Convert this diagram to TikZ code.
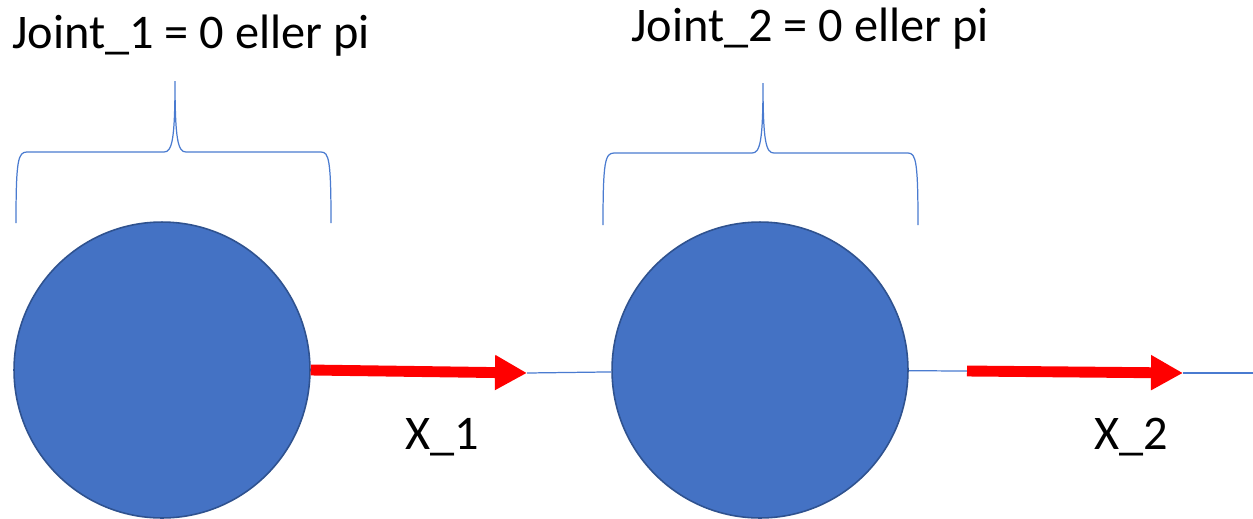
\documentclass[tikz,border=0pt]{standalone}
\usepackage{fontspec}
\setmainfont{Carlito}
\usetikzlibrary{arrows.meta}

\definecolor{discblue}{HTML}{4472C4}
\definecolor{discedge}{HTML}{2F528F}
\definecolor{bracecol}{HTML}{4A7BD0}

\begin{document}
\begin{tikzpicture}[
x=0.02cm, y=-0.02cm,
disc/.style={circle, fill=discblue, draw=discedge, line width=0.9pt, minimum size=5.92cm, inner sep=0pt},
label/.style={font=\fontsize{27.5}{32}\selectfont, inner sep=0pt},
thinline/.style={draw=bracecol, line width=0.7pt},
redarrow/.style={red, line width=6.2pt, -{Triangle[length=0.64cm, width=0.66cm]}}
]
\useasboundingbox (0,0) rectangle (1253,518);

% joints
\node[disc] (c1) at (162,370) {};
\node[disc] (c2) at (760,370) {};

% labels
\node[label] (j1) at (191,36) {Joint\_1 = 0 eller pi};
\node[label] (j2) at (810,29) {Joint\_2 = 0 eller pi};
\node[label] (x1) at (442,437) {X\_1};
\node[label] (x2) at (1131,437) {X\_2};

% arrow ends
\coordinate (t1) at (527,373);
\coordinate (s2) at (967,371);
\coordinate (t2) at (1183,373);
\coordinate (end) at (1253,373);

% braces
\draw[thinline] (16,223) .. controls (16,160) and (18,152) .. (27,152) -- (164,152)
  .. controls (172,152) and (175,140) .. (175,81)
  .. controls (175,140) and (178,152) .. (186,152) -- (321,152)
  .. controls (329,152) and (331,160) .. (331,223);
\draw[thinline] (603,225) .. controls (603,162) and (605,153) .. (614,153) -- (752,153)
  .. controls (760,153) and (763,142) .. (763,83)
  .. controls (763,142) and (766,153) .. (774,153) -- (908,153)
  .. controls (916,153) and (918,162) .. (918,225);

% axes
\draw[thinline] (t1) -- (c2);
\draw[thinline] (c2) -- (s2);
\draw[thinline] (t2) -- (end);
\draw[redarrow] (c1.east) -- (t1);
\draw[redarrow] (s2) -- (t2);

\end{tikzpicture}
\end{document}
